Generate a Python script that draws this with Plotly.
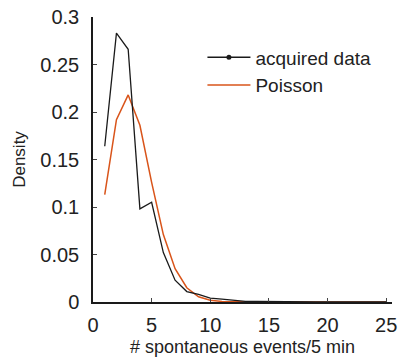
import plotly.graph_objects as go

x_events = list(range(1, 26))
acquired = [0.164, 0.283, 0.266, 0.098, 0.105, 0.052, 0.023, 0.011, 0.008, 0.004,
            0.003, 0.002, 0.0007, 0.0005, 0.0003, 0.0003, 0.0002, 0.0002, 0.0001, 0.0001,
            0.0001, 0.0001, 0.0001, 0.0001, 0.0001]
poisson = [0.113, 0.192, 0.218, 0.186, 0.126, 0.071, 0.035, 0.015, 0.0055, 0.0019,
           0.0006, 0.0002, 0.0001, 0, 0, 0, 0, 0, 0, 0, 0, 0, 0, 0, 0]

xticks = [0, 5, 10, 15, 20, 25]
yticks = [0, 0.05, 0.1, 0.15, 0.2, 0.25, 0.3]
ytick_text = ["0", "0.05", "0.1", "0.15", "0.2", "0.25", "0.3"]

black = "#1a1a1a"
orange = "#D9541A"

fig = go.Figure()
fig.add_trace(go.Scatter(x=x_events, y=poisson, mode="lines", name="Poisson",
                         line=dict(color=orange, width=1.5), showlegend=False))
fig.add_trace(go.Scatter(x=x_events, y=acquired, mode="lines", name="acquired data",
                         line=dict(color=black, width=1.3), showlegend=False))
# legend entries
fig.add_trace(go.Scatter(x=[None], y=[None], mode="lines+markers", name="acquired data",
                         line=dict(color=black, width=1.3), marker=dict(size=5, color=black)))
fig.add_trace(go.Scatter(x=[None], y=[None], mode="lines", name="Poisson",
                         line=dict(color=orange, width=1.5)))

fig.update_layout(
    width=401, height=363,
    margin=dict(l=93, r=4, t=17, b=61),
    paper_bgcolor="white", plot_bgcolor="white",
    font=dict(family="Liberation Sans, Arial, sans-serif", color="#222222"),
    legend=dict(x=0.366, y=0.925, xanchor="left", yanchor="top", itemwidth=43,
                font=dict(size=19), bgcolor="rgba(0,0,0,0)", tracegroupgap=0),
    xaxis=dict(range=[0, 25.5], tickvals=xticks, ticks="inside", ticklen=4,
               showline=True, linecolor=black, linewidth=1.5, showgrid=False,
               zeroline=False, tickfont=dict(size=20), ticklabelstandoff=4,
               ticklabeloverflow="allow",
               title=dict(text="# spontaneous events/5 min", font=dict(size=18), standoff=6)),
    yaxis=dict(range=[0, 0.3], tickvals=yticks, ticktext=ytick_text, ticks="inside",
               ticklen=4, showline=True, linecolor=black, linewidth=1.5, showgrid=False,
               zeroline=False, tickfont=dict(size=20), ticklabelstandoff=8,
               title=dict(text="Density", font=dict(size=17), standoff=10)),
)

fig.write_html("out.html")
